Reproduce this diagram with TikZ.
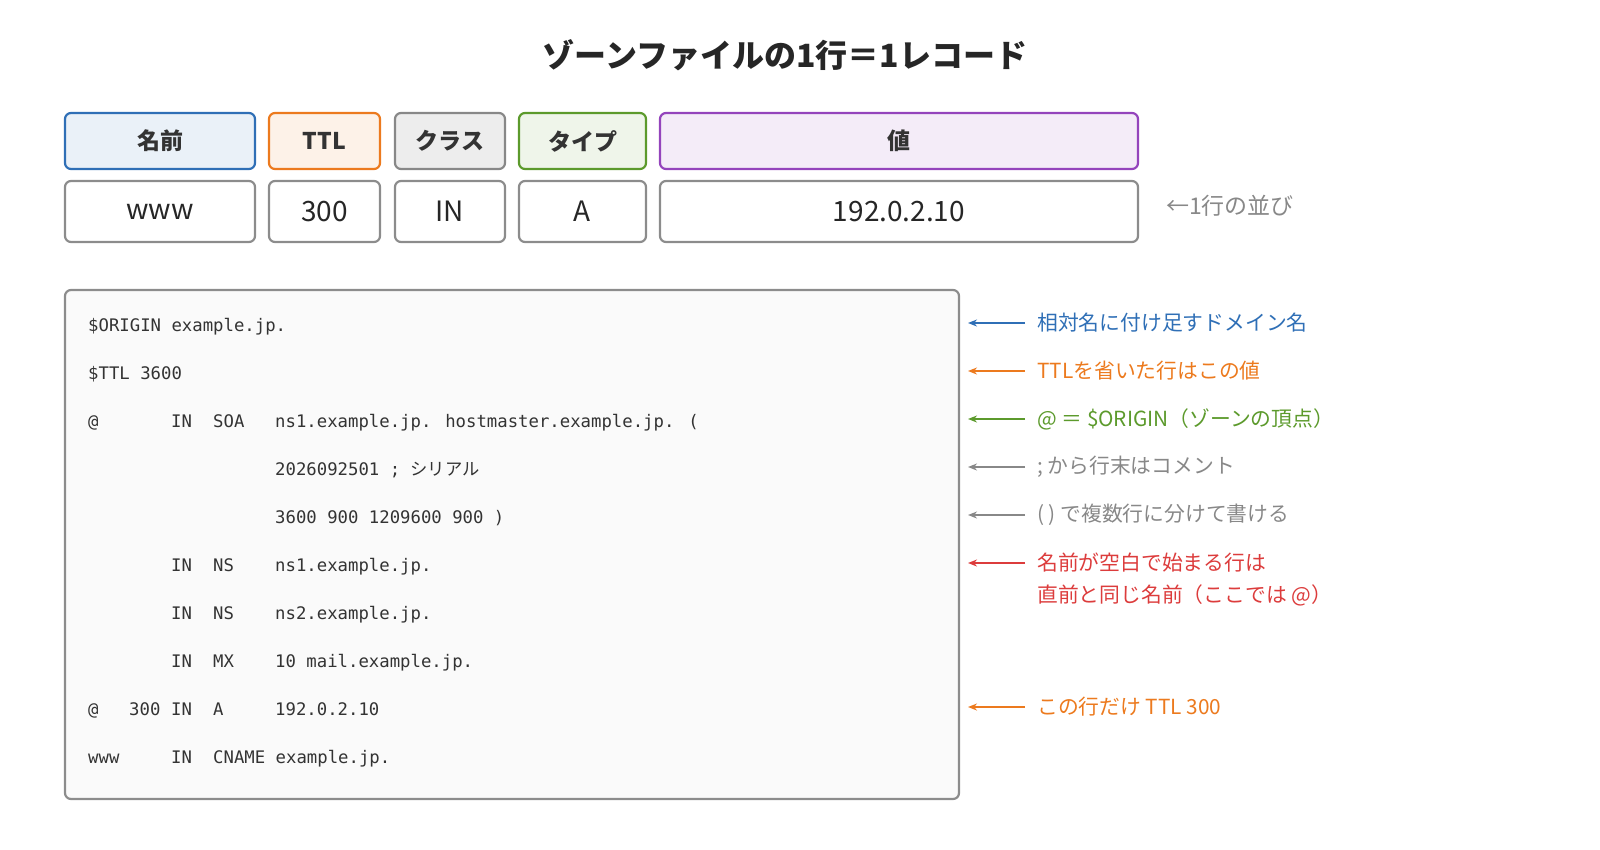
\documentclass[tikz,border=0pt]{standalone}
\usepackage{fontspec}
\setmainfont{Noto Sans CJK JP}
\newfontfamily\cjk{Noto Sans CJK JP}
\newfontfamily\mono{DejaVu Sans Mono}
\usetikzlibrary{arrows.meta}
\definecolor{cblue}{HTML}{2F6FB6}
\definecolor{corange}{HTML}{EC7A1E}
\definecolor{cgreen}{HTML}{5C9A2C}
\definecolor{cgray}{HTML}{888888}
\definecolor{cred}{HTML}{DC3C3C}
\definecolor{cpurple}{HTML}{9444BC}
\begin{document}
\begin{tikzpicture}[x=1pt,y=-1pt,
 hd/.style={draw=#1,line width=2.2pt,rounded corners=6pt,font=\fontsize{23}{26}\selectfont\bfseries,text=black!80},
 vb/.style={draw=black!45,line width=2.2pt,rounded corners=6pt,font=\fontsize{28}{32}\selectfont,text=black!85},
 cd/.style={anchor=base west,font=\mono\fontsize{17.3}{20}\selectfont,text=black!80,inner sep=0},
 lb/.style={anchor=west,font=\fontsize{20.8}{24}\selectfont,text=#1,inner sep=0},
 ar/.style={draw=#1,line width=2.2pt,-{Stealth[length=9pt,width=7pt]}}]
\useasboundingbox (0,0) rectangle (1600,849);
\node[font=\fontsize{32}{36}\selectfont\bfseries,text=black!85] (t) at (785,55) {ゾーンファイルの1行＝1レコード};
% headers
\node[hd=cblue,fill=cblue!10,minimum width=190,minimum height=56] (h1) at (160,141) {名前};
\node[hd=corange,fill=corange!10,minimum width=111,minimum height=56] (h2) at (324.5,141) {TTL};
\node[hd=cgray,fill=black!7,minimum width=110,minimum height=56] (h3) at (450,141) {クラス};
\node[hd=cgreen,fill=cgreen!10,minimum width=127,minimum height=56] (h4) at (582.5,141) {タイプ};
\node[hd=cpurple,fill=cpurple!10,minimum width=478,minimum height=56] (h5) at (899,141) {値};
\node[vb,minimum width=190,minimum height=61] (v1) at (160,211.5) {www};
\node[vb,minimum width=111,minimum height=61] (v2) at (324.5,211.5) {300};
\node[vb,minimum width=110,minimum height=61] (v3) at (450,211.5) {IN};
\node[vb,minimum width=127,minimum height=61] (v4) at (582.5,211.5) {A};
\node[vb,minimum width=478,minimum height=61] (v5) at (899,211.5) {192.0.2.10};
\node[lb=cgray,font=\fontsize{23}{26}\selectfont] (rowlbl) at (1166,206) {←1行の並び};
% code box
\node[draw=black!45,line width=2.2pt,rounded corners=6pt,fill=black!2,minimum width=894,minimum height=509] (box) at (512,544.5) {};
\node[cd] (c0) at (88,331) {\$ORIGIN example.jp.};
\node[cd] (c1) at (88,379) {\$TTL 3600};
\node[cd] (c2a) at (88,427) {@};
\node[cd] (c2b) at (171,427) {IN};
\node[cd] (c2c) at (213,427) {SOA};
\node[cd] (c2d) at (275,427) {ns1.example.jp. hostmaster.example.jp. (};
\node[cd] (c3) at (275,475) {2026092501 ; {\cjk シリアル}};
\node[cd] (c4) at (275,523) {3600 900 1209600 900 )};
\node[cd] (c5b) at (171,571) {IN};
\node[cd] (c5c) at (213,571) {NS};
\node[cd] (c5d) at (275,571) {ns1.example.jp.};
\node[cd] (c6b) at (171,619) {IN};
\node[cd] (c6c) at (213,619) {NS};
\node[cd] (c6d) at (275,619) {ns2.example.jp.};
\node[cd] (c7b) at (171,667) {IN};
\node[cd] (c7c) at (213,667) {MX};
\node[cd] (c7d) at (275,667) {10 mail.example.jp.};
\node[cd] (c8a) at (88,715) {@};
\node[cd] (c8t) at (129,715) {300};
\node[cd] (c8b) at (171,715) {IN};
\node[cd] (c8c) at (213,715) {A};
\node[cd] (c8d) at (275,715) {192.0.2.10};
\node[cd] (c9a) at (88,763) {www};
\node[cd] (c9b) at (171,763) {IN};
\node[cd] (c9c) at (213,763) {CNAME example.jp.};
% annotations
\foreach \n/\y/\c/\t in {a/323/cblue/{相対名に付け足すドメイン名}, b/371/corange/{TTLを省いた行はこの値}, c/419/cgreen/{@ ＝ \$ORIGIN（ゾーンの頂点）}, d/467/cgray/{; から行末はコメント}, e/515/cgray/{( ) で複数行に分けて書ける}, g/707/corange/{この行だけ TTL 300}}{
 \node[lb=\c] (l\n) at (1037,\y) {\t};
 \coordinate (s\n) at (1025,\y);
 \coordinate (e\n) at (968,\y);
 \draw[ar=\c] (s\n) -- (e\n);}
\node[lb=cred,align=left,font=\fontsize{20.8}{32}\selectfont] (lf) at (1037,579) {名前が空白で始まる行は\\直前と同じ名前（ここでは @）};
\coordinate (sf) at (1025,563); \coordinate (ef) at (968,563);
\draw[ar=cred] (sf) -- (ef);
\end{tikzpicture}
\end{document}
